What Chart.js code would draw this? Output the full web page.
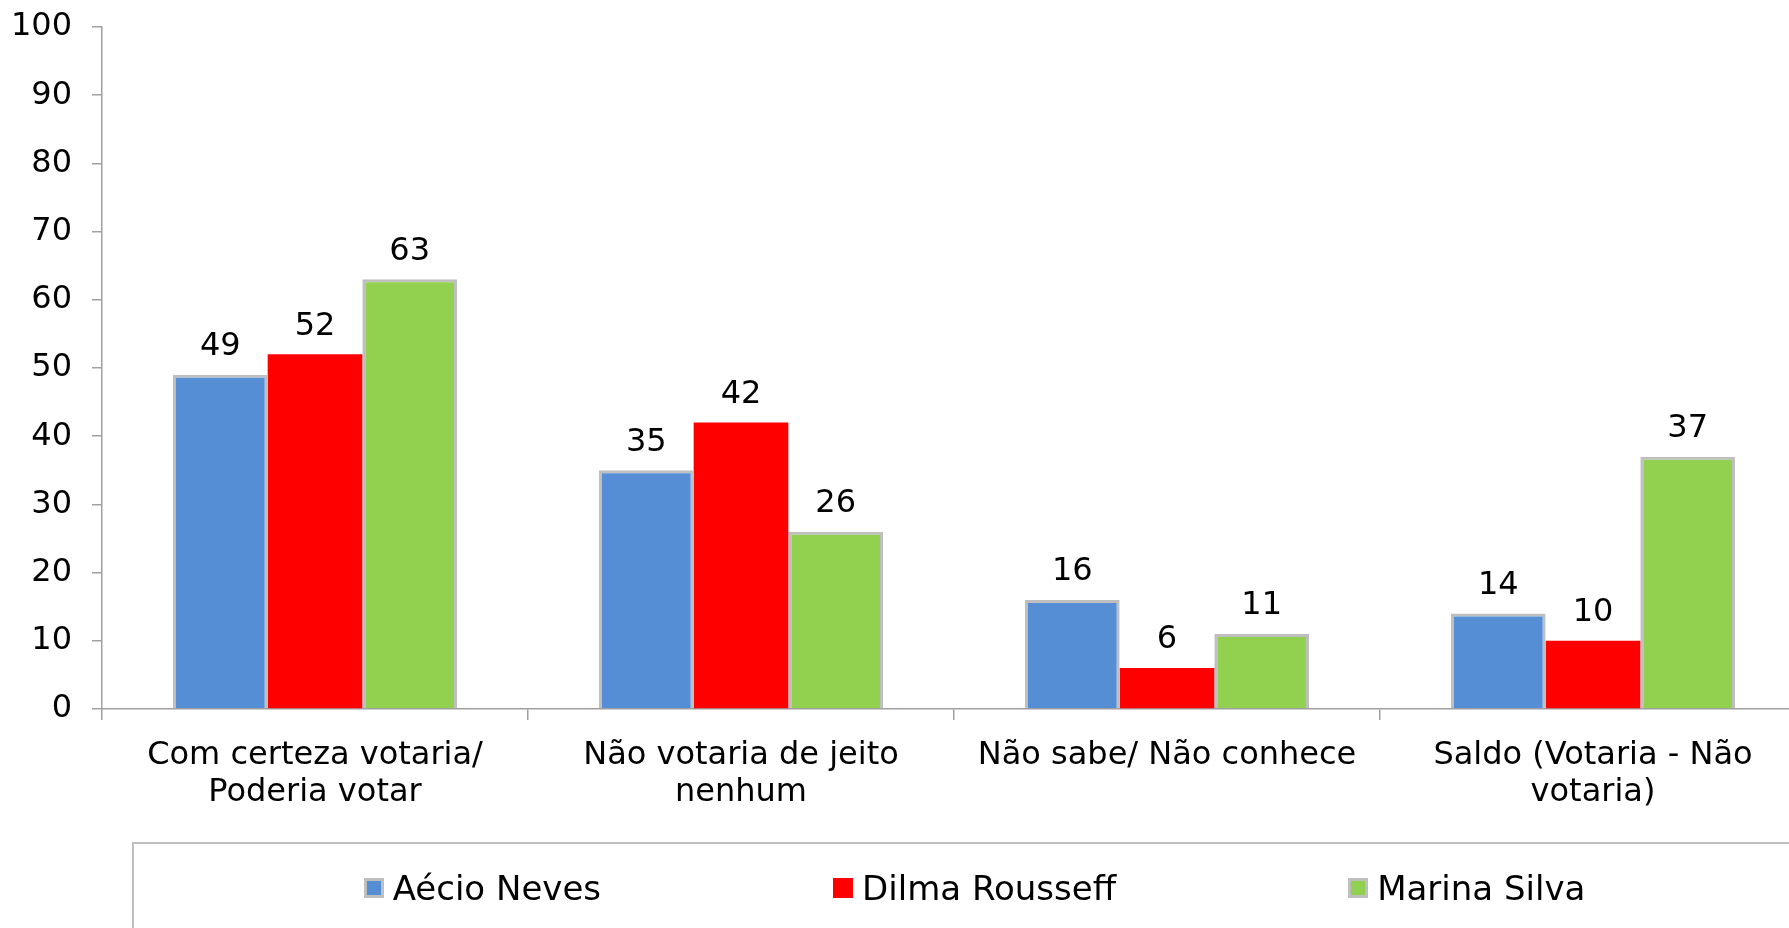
<!DOCTYPE html>
<html><head><meta charset="utf-8">
<script src="https://cdn.jsdelivr.net/npm/chart.js@4.4.1/dist/chart.umd.min.js"></script>
<style>
html,body{margin:0;padding:0;background:#fff;overflow:hidden;width:1789px;height:928px;}
#wrap{position:absolute;left:0;top:0;width:1830px;height:928px;}
#legend{position:absolute;left:132px;top:842px;width:1685px;height:92px;border:2px solid #BFBFBF;box-sizing:border-box;display:flex;justify-content:center;align-items:center;gap:232px;font-family:"DejaVu Sans";font-size:34px;color:#000;}
#legend .item{display:flex;align-items:center;}
#legend .sw{width:20px;height:20px;box-sizing:border-box;margin-right:9px;}
</style>
</head><body>
<div id="wrap"><canvas id="c" width="1830" height="928"></canvas></div>
<div id="legend"></div>
<script>
const categories = [["Com certeza votaria/","Poderia votar"],["Não votaria de jeito","nenhum"],"Não sabe/ Não conhece",["Saldo (Votaria - Não","votaria)"]];
const seriesNames = ["Aécio Neves","Dilma Rousseff","Marina Silva"];
const aecio = [49,35,16,14];
const dilma = [52,42,6,10];
const marina = [63,26,11,37];
const yTickValues = [0,10,20,30,40,50,60,70,80,90,100];

const seriesColors = ["#558ED5","#FF0000","#92D050"];
const seriesBorders = ["#BFBFBF","#FF0000","#BFBFBF"];
const seriesBorderWidths = [3,0,3];
const FONT = "DejaVu Sans";

const valueLabels = {
  id:'valueLabels',
  afterDatasetsDraw(chart){
    const ctx = chart.ctx;
    ctx.save();
    ctx.font = `32px "${FONT}"`;
    ctx.fillStyle = '#000';
    ctx.textAlign = 'center';
    ctx.textBaseline = 'middle';
    chart.data.datasets.forEach((ds,i)=>{
      chart.getDatasetMeta(i).data.forEach((bar,j)=>{
        ctx.fillText(String(ds.data[j]), bar.x, bar.y - 28);
      });
    });
    ctx.restore();
  }
};

const datasets = [aecio, dilma, marina].map((d,i)=>({
  label: seriesNames[i],
  data: d,
  backgroundColor: seriesColors[i],
  borderColor: seriesBorders[i],
  borderWidth: seriesBorderWidths[i],
  categoryPercentage: 3/4.5,
  barPercentage: 1.0
}));

new Chart(document.getElementById('c'), {
  type:'bar',
  data:{labels:categories, datasets},
  plugins:[valueLabels],
  options:{
    responsive:false,
    animation:false,
    devicePixelRatio:1,
    layout:{padding:{top:27,right:24,left:0,bottom:0}},
    plugins:{legend:{display:false},tooltip:{enabled:false}},
    scales:{
      x:{
        grid:{display:true,drawOnChartArea:false,drawTicks:true,tickLength:11,color:'#A0A0A0',lineWidth:1.5,offset:true},
        border:{display:true,color:'#A0A0A0',width:1.5},
        ticks:{color:'#000',font:{family:FONT,size:32,lineHeight:1.16},padding:17,maxRotation:0,autoSkip:false},
        afterFit(s){ s.height = 219; s.paddingLeft = 0; s.paddingRight = 0; }
      },
      y:{
        min:0,max:100,
        afterBuildTicks(s){ s.ticks = yTickValues.map(v=>({value:v})); },
        grid:{display:true,drawOnChartArea:false,drawTicks:true,tickLength:10,color:'#A0A0A0',lineWidth:1.5},
        border:{display:true,color:'#A0A0A0',width:1.5},
        ticks:{color:'#000',font:{family:FONT,size:32},padding:20},
        afterFit(s){ s.width = 102; s.paddingTop = 0; s.paddingBottom = 0; }
      }
    }
  }
});

const lg = document.getElementById('legend');
seriesNames.forEach((n,i)=>{
  const it = document.createElement('div'); it.className='item';
  const sw = document.createElement('span'); sw.className='sw';
  sw.style.background = seriesColors[i];
  sw.style.border = seriesBorderWidths[i] ? '3px solid '+seriesBorders[i] : 'none';
  const tx = document.createElement('span'); tx.textContent = n;
  it.appendChild(sw); it.appendChild(tx); lg.appendChild(it);
});
</script>
</body></html>
